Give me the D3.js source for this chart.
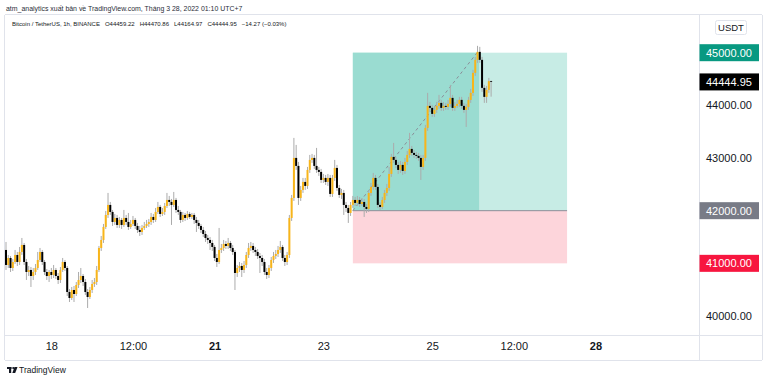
<!DOCTYPE html>
<html><head><meta charset="utf-8">
<script src="https://cdn.jsdelivr.net/npm/d3@7"></script>
<style>html,body{margin:0;padding:0;background:#fff;}svg{display:block;font-family:"Liberation Sans",Arial,sans-serif;}</style>
</head><body>
<svg id="c" width="768" height="381"></svg>
<script>
// ---------- DATA ----------
const firstBarTime = Date.UTC(2022, 2, 17, 4); // hourly bars, chart display time
const open = [
41254,40969,41102,40912,41026,41159,41026,41216,41349,41026,
40836,40874,40760,40836,40912,41064,41216,41026,40836,40760,
40836,40779,40874,40760,40684,40874,41026,40912,40456,40342,
40494,40418,40589,40684,40760,40646,40456,40361,40494,40608,
40646,40874,41292,41444,41691,41919,42109,41976,41786,41862,
41729,41824,41729,41862,41786,41691,41748,41824,41710,41634,
41596,41672,41710,41748,41786,41881,41824,41976,42071,41938,
41976,42090,42204,42166,42109,42204,42014,41976,41824,41919,
41862,41938,41881,41919,41824,41767,41710,41634,41558,41482,
41444,41387,41311,41102,41026,41254,41292,41368,41330,41387,
41292,41216,40817,40912,40950,40874,40969,41159,41292,41330,
41254,41216,41140,41102,41026,40836,40779,40912,41064,41140,
41178,41254,41311,41102,41026,41159,41862,42242,43002,42850,
42242,42394,42546,42470,42774,42964,43002,42850,42774,42736,
42584,42622,42546,42622,42318,42622,42812,42432,42299,42337,
42109,42052,41957,42109,42204,42147,42204,42128,42166,42071,
42033,42337,42451,42622,42451,42109,42071,42204,42337,42432,
42698,43021,42964,42869,42774,42869,42755,42926,43059,43173,
43097,43059,43040,43002,42831,43002,43572,43990,43952,43838,
43914,43990,44047,43952,43990,43971,44028,44142,43952,43990,
44028,44104,43990,43914,43971,44104,44237,44617,44864,45016,
44864,44332,44161,44294,44459.22];
const high = [
41406,41159,41140,41083,41254,41216,41311,41482,41387,41083,
40950,40931,40912,40988,41216,41292,41254,41064,40893,40874,
40912,40969,40912,40817,40931,41102,41064,40950,40513,40551,
40570,40646,40836,40912,40798,40703,40513,40551,40684,40722,
40950,41330,41520,41748,41995,42337,42166,42014,41938,41919,
41881,41862,42014,41919,41957,41824,41900,41862,41767,41710,
41729,41786,41824,41843,41957,41938,42052,42166,42109,42052,
42147,42337,42280,42223,42356,42242,42090,42014,41976,41957,
41995,41976,41957,41957,41881,41824,41748,41691,41615,41539,
41501,41444,41349,41178,41672,41368,41444,41425,41482,41425,
41349,41254,40969,41026,41007,41045,41216,41387,41406,41387,
41311,41273,41197,41159,41083,40912,40969,41121,41216,41254,
41330,41425,41349,41159,41216,41919,42299,43382,43249,42926,
42470,42622,42622,42831,43059,43078,43059,43192,42831,42793,
42698,42679,42698,42679,42679,42964,42869,42489,42413,42394,
42166,42109,42166,42280,42261,42280,42261,42242,42223,42128,
42394,42527,42717,42679,42508,42166,42261,42394,42508,42831,
43078,43287,43021,42926,42945,42926,43002,43135,43477,43230,
43154,43116,43097,43059,43059,43629,44237,44066,44009,43990,
44066,44199,44104,44066,44047,44104,44389,44199,44066,44104,
44161,44161,44047,44028,44161,44313,44674,44921,45130,45111,
44921,44389,44370,44522,44470.86];
const low = [
40874,40912,40836,40855,40988,40950,40969,41159,40969,40684,
40760,40551,40684,40779,40874,41026,40969,40779,40684,40646,
40703,40722,40703,40608,40627,40836,40855,40380,40266,40304,
40266,40380,40532,40627,40570,40399,40152,40323,40437,40551,
40589,40836,41235,41387,41653,41862,41919,41710,41729,41672,
41672,41653,41691,41729,41634,41653,41710,41653,41577,41520,
41539,41634,41672,41691,41729,41767,41786,41938,41881,41900,
41919,42052,42090,41729,42071,41957,41919,41767,41786,41805,
41824,41843,41843,41748,41596,41653,41577,41501,41406,41368,
41254,41235,41045,40931,40988,41197,41235,41273,41273,41235,
41159,40494,40741,40836,40741,40817,40912,41102,41235,41197,
41140,41083,40817,40950,40779,40703,40722,40855,41007,41083,
41121,41197,41045,40950,40969,41102,41805,42185,42774,42109,
42185,42337,42394,42413,42717,42907,42793,42717,42660,42527,
42527,42489,42470,42261,42261,42565,42375,42242,42223,41919,
41976,41767,41900,42052,42090,42090,42071,42090,41881,41957,
41976,42280,42394,42394,42052,42014,42033,42147,42280,42375,
42641,42907,42812,42698,42717,42679,42698,42869,43002,43040,
43002,42983,42945,42584,42774,42945,43515,43876,43781,43781,
43857,43933,43895,43895,43914,43914,43971,43895,43895,43952,
43971,43933,43857,43591,43914,44047,44180,44560,44807,44807,
44256,44047,44047,44237,44164.97];
const close = [
40969,41102,40912,41026,41159,41026,41216,41349,41026,40836,
40874,40760,40836,40912,41064,41216,41026,40836,40760,40836,
40779,40874,40760,40684,40874,41026,40912,40456,40342,40494,
40418,40589,40684,40760,40646,40456,40361,40494,40608,40646,
40874,41292,41444,41691,41919,42109,41976,41786,41862,41729,
41824,41729,41862,41786,41691,41748,41824,41710,41634,41596,
41672,41710,41748,41786,41881,41824,41976,42071,41938,41976,
42090,42204,42166,42109,42204,42014,41976,41824,41919,41862,
41938,41881,41919,41824,41767,41710,41634,41558,41482,41444,
41387,41311,41102,41026,41254,41292,41368,41330,41387,41292,
41216,40817,40912,40950,40874,40969,41159,41292,41330,41254,
41216,41140,41102,41026,40836,40779,40912,41064,41140,41178,
41254,41311,41102,41026,41159,41862,42242,43002,42850,42242,
42394,42546,42470,42774,42964,43002,42850,42774,42736,42584,
42622,42546,42622,42318,42622,42812,42432,42299,42337,42109,
42052,41957,42109,42204,42147,42204,42128,42166,42071,42033,
42337,42451,42622,42451,42109,42071,42204,42337,42432,42698,
43021,42964,42869,42774,42869,42755,42926,43059,43173,43097,
43059,43040,43002,42831,43002,43572,43990,43952,43838,43914,
43990,44047,43952,43990,43971,44028,44142,43952,43990,44028,
44104,43990,43914,43971,44104,44237,44617,44864,45016,44864,
44332,44161,44294,44459.22,44444.95];

const priceTicks = [40000, 41000, 42000, 43000, 44000, 45000];
const timeTicks = [
  {t: Date.UTC(2022,2,18,0),  label: "18",    bold: false},
  {t: Date.UTC(2022,2,19,12), label: "12:00", bold: false},
  {t: Date.UTC(2022,2,21,0),  label: "21",    bold: true},
  {t: Date.UTC(2022,2,23,0),  label: "23",    bold: false},
  {t: Date.UTC(2022,2,25,0),  label: "25",    bold: false},
  {t: Date.UTC(2022,2,26,12), label: "12:00", bold: false},
  {t: Date.UTC(2022,2,28,0),  label: "28",    bold: true}
];
// Long position tool
const entryPrice = 42000, targetPrice = 45000, stopPrice = 41000;
const entryBar = 153, closeBar = 208.7, toolEndBar = 247.5;
const viewFromBar = -2.65, viewToBar = 305.7;

const headerTop = "atm_analytics xuất bản về TradingView.com, Tháng 3 28, 2022 01:10 UTC+7";
const symbolTitle = "Bitcoin / TetherUS, 1h, BINANCE";
const currency = "USDT";

// ---------- LAYOUT ----------
const paneL = 5, paneR = 699, paneT = 15, paneB = 335, axisR = 762, timeB = 360;
const HOUR = 3600e3;
const barTime = i => new Date(firstBarTime + i * HOUR);
const bars = close.map((c, i) => ({t: barTime(i), o: open[i], h: high[i], l: low[i], c}));

const svg = d3.select("#c");
const x = d3.scaleUtc().domain([barTime(viewFromBar), barTime(viewToBar)]).range([0, paneR]);
const y = d3.scaleLinear().domain([40000, 45000]).range([316, 52.7]);

const colUp = "#F8B51A", colDown = "#000000", colWick = "#ABABAB";
const lineCol = "#E0E3EB", textCol = "#131722";

svg.append("rect").attr("width", 768).attr("height", 381).attr("fill", "#fff");

svg.append("clipPath").attr("id", "pane").append("rect")
  .attr("x", paneL).attr("y", paneT).attr("width", paneR - paneL).attr("height", paneB - paneT);
const pane = svg.append("g").attr("clip-path", "url(#pane)");

// position tool zones
const xe = x(barTime(entryBar)), xc = x(barTime(closeBar)), xend = x(barTime(toolEndBar));
pane.append("rect").attr("x", xe).attr("width", xend - xe)
  .attr("y", y(targetPrice)).attr("height", y(entryPrice) - y(targetPrice)).attr("fill", "#C7ECE5");
pane.append("rect").attr("x", xe).attr("width", xc - xe)
  .attr("y", y(targetPrice)).attr("height", y(entryPrice) - y(targetPrice)).attr("fill", "#9ADCD1");
pane.append("rect").attr("x", xe).attr("width", xend - xe)
  .attr("y", y(entryPrice)).attr("height", y(stopPrice) - y(entryPrice)).attr("fill", "#FDD5DB");
pane.append("line").attr("x1", xe).attr("x2", xend)
  .attr("y1", y(entryPrice)).attr("y2", y(entryPrice)).attr("stroke", "#8A8E98").attr("stroke-width", 1);
pane.append("line").attr("x1", xe).attr("y1", y(entryPrice))
  .attr("x2", xc - 2).attr("y2", y(targetPrice))
  .attr("stroke", "#8A8E98").attr("stroke-width", 1).attr("stroke-dasharray", "3,3");

// candles
const bw = 2;
const cg = pane.append("g");
cg.selectAll("line.w").data(bars).join("line").attr("class", "w")
  .attr("x1", d => x(d.t)).attr("x2", d => x(d.t))
  .attr("y1", d => y(d.h)).attr("y2", d => y(d.l))
  .attr("stroke", colWick).attr("stroke-width", 1);
cg.selectAll("rect.b").data(bars).join("rect").attr("class", "b")
  .attr("x", d => x(d.t) - bw / 2).attr("width", bw)
  .attr("y", d => y(Math.max(d.o, d.c)))
  .attr("height", d => Math.max(0.8, Math.abs(y(d.o) - y(d.c))))
  .attr("fill", d => d.c >= d.o ? colUp : colDown);

// frame lines
const fr = svg.append("g").attr("stroke", lineCol).attr("stroke-width", 1).attr("fill", "none");
fr.append("line").attr("x1", paneL).attr("x2", axisR).attr("y1", paneT - 0.5).attr("y2", paneT - 0.5);
fr.append("line").attr("x1", paneL).attr("x2", axisR).attr("y1", paneB + 0.5).attr("y2", paneB + 0.5);
fr.append("line").attr("x1", paneL).attr("x2", axisR).attr("y1", timeB + 0.5).attr("y2", timeB + 0.5);
fr.append("line").attr("x1", paneL - 0.5).attr("x2", paneL - 0.5).attr("y1", paneT).attr("y2", timeB);
fr.append("line").attr("x1", paneR + 0.5).attr("x2", paneR + 0.5).attr("y1", paneT).attr("y2", timeB);
fr.append("line").attr("x1", axisR + 0.5).attr("x2", axisR + 0.5).attr("y1", paneT).attr("y2", timeB);

// price axis
const fmt = d3.format(".2f");
const ya = svg.append("g").attr("transform", `translate(${paneR},0)`)
  .call(d3.axisRight(y).tickValues(priceTicks).tickSize(0).tickPadding(7).tickFormat(fmt));
ya.select(".domain").remove();
ya.selectAll("text").attr("fill", textCol).style("font-size", "11px")
  .style("font-family", '"Liberation Sans",Arial,sans-serif');

// colored price labels
const last = bars[bars.length - 1];
const tags = [
  {v: targetPrice, bg: "#089981", fg: "#fff"},
  {v: last.c, bg: "#000000", fg: "#fff"},
  {v: entryPrice, bg: "#787B86", fg: "#fff"},
  {v: stopPrice, bg: "#F7163F", fg: "#fff"}
];
const tg = svg.append("g");
tags.forEach(tag => {
  const cy = y(tag.v);
  tg.append("rect").attr("x", paneR + 0.5).attr("y", cy - 8.5).attr("width", 59.5).attr("height", 17).attr("fill", tag.bg);
  tg.append("text").attr("x", paneR + 7).attr("y", cy).attr("dy", "0.35em")
    .attr("fill", tag.fg).style("font-size", "11px").text(fmt(tag.v));
});

// currency badge
svg.append("rect").attr("x", 715.5).attr("y", 20.5).attr("width", 31).attr("height", 14).attr("rx", 2)
  .attr("fill", "#fff").attr("stroke", lineCol);
svg.append("text").attr("x", 731).attr("y", 27.5).attr("dy", "0.35em").attr("text-anchor", "middle")
  .attr("fill", textCol).style("font-size", "9.5px").text(currency);

// time axis
const xa = svg.append("g").attr("transform", `translate(0,${paneB})`)
  .call(d3.axisBottom(x).tickValues(timeTicks.map(d => new Date(d.t))).tickSize(0).tickPadding(7)
    .tickFormat((d, i) => timeTicks[i].label));
xa.select(".domain").remove();
xa.selectAll("text").attr("fill", textCol).style("font-size", "11px")
  .style("font-family", '"Liberation Sans",Arial,sans-serif')
  .style("font-weight", (d, i) => timeTicks[i].bold ? "bold" : "normal");

// header
const narrow = '"Liberation Sans Narrow","Arial Narrow","Liberation Sans",Arial,sans-serif';
function fitText(sel, target) {
  const w = sel.node().getComputedTextLength();
  const fs = parseFloat(sel.style("font-size"));
  sel.style("font-size", (fs * target / w) + "px");
}
const h1 = svg.append("text").attr("x", 6).attr("y", 10.5).attr("fill", "#2A2E39")
  .style("font-family", narrow).style("font-size", "7px").text(headerTop);
fitText(h1, 237);

const chg = last.c - close[close.length - 2];
const pct = chg / close[close.length - 2] * 100;
const h2 = svg.append("text").attr("x", 12).attr("y", 25.5).attr("fill", textCol)
  .style("font-family", narrow).style("font-size", "7px");
const parts = [symbolTitle, "O" + fmt(last.o), "H" + fmt(last.h), "L" + fmt(last.l), "C" + fmt(last.c),
  (chg < 0 ? "\u2212" : "+") + fmt(Math.abs(chg)) + " (" + (pct < 0 ? "\u2212" : "+") + fmt(Math.abs(pct)) + "%)"];
parts.forEach((p, i) => h2.append("tspan").attr("dx", i ? 5 : 0).text(p));
fitText(h2, 250);

// TradingView logo
const lg = svg.append("g").attr("fill", textCol);
lg.append("rect").attr("x", 7).attr("y", 367).attr("width", 4.5).attr("height", 2);
lg.append("rect").attr("x", 9).attr("y", 367).attr("width", 2.2).attr("height", 6);
lg.append("circle").attr("cx", 13.3).attr("cy", 368).attr("r", 1.1);
lg.append("path").attr("d", "M14.5 367 L17.5 367 L15.2 373 L12.3 373 Z");
svg.append("text").attr("x", 19).attr("y", 373).attr("fill", textCol)
  .style("font-family", narrow).style("font-size", "8.5px").text("TradingView");
</script>
</body></html>
